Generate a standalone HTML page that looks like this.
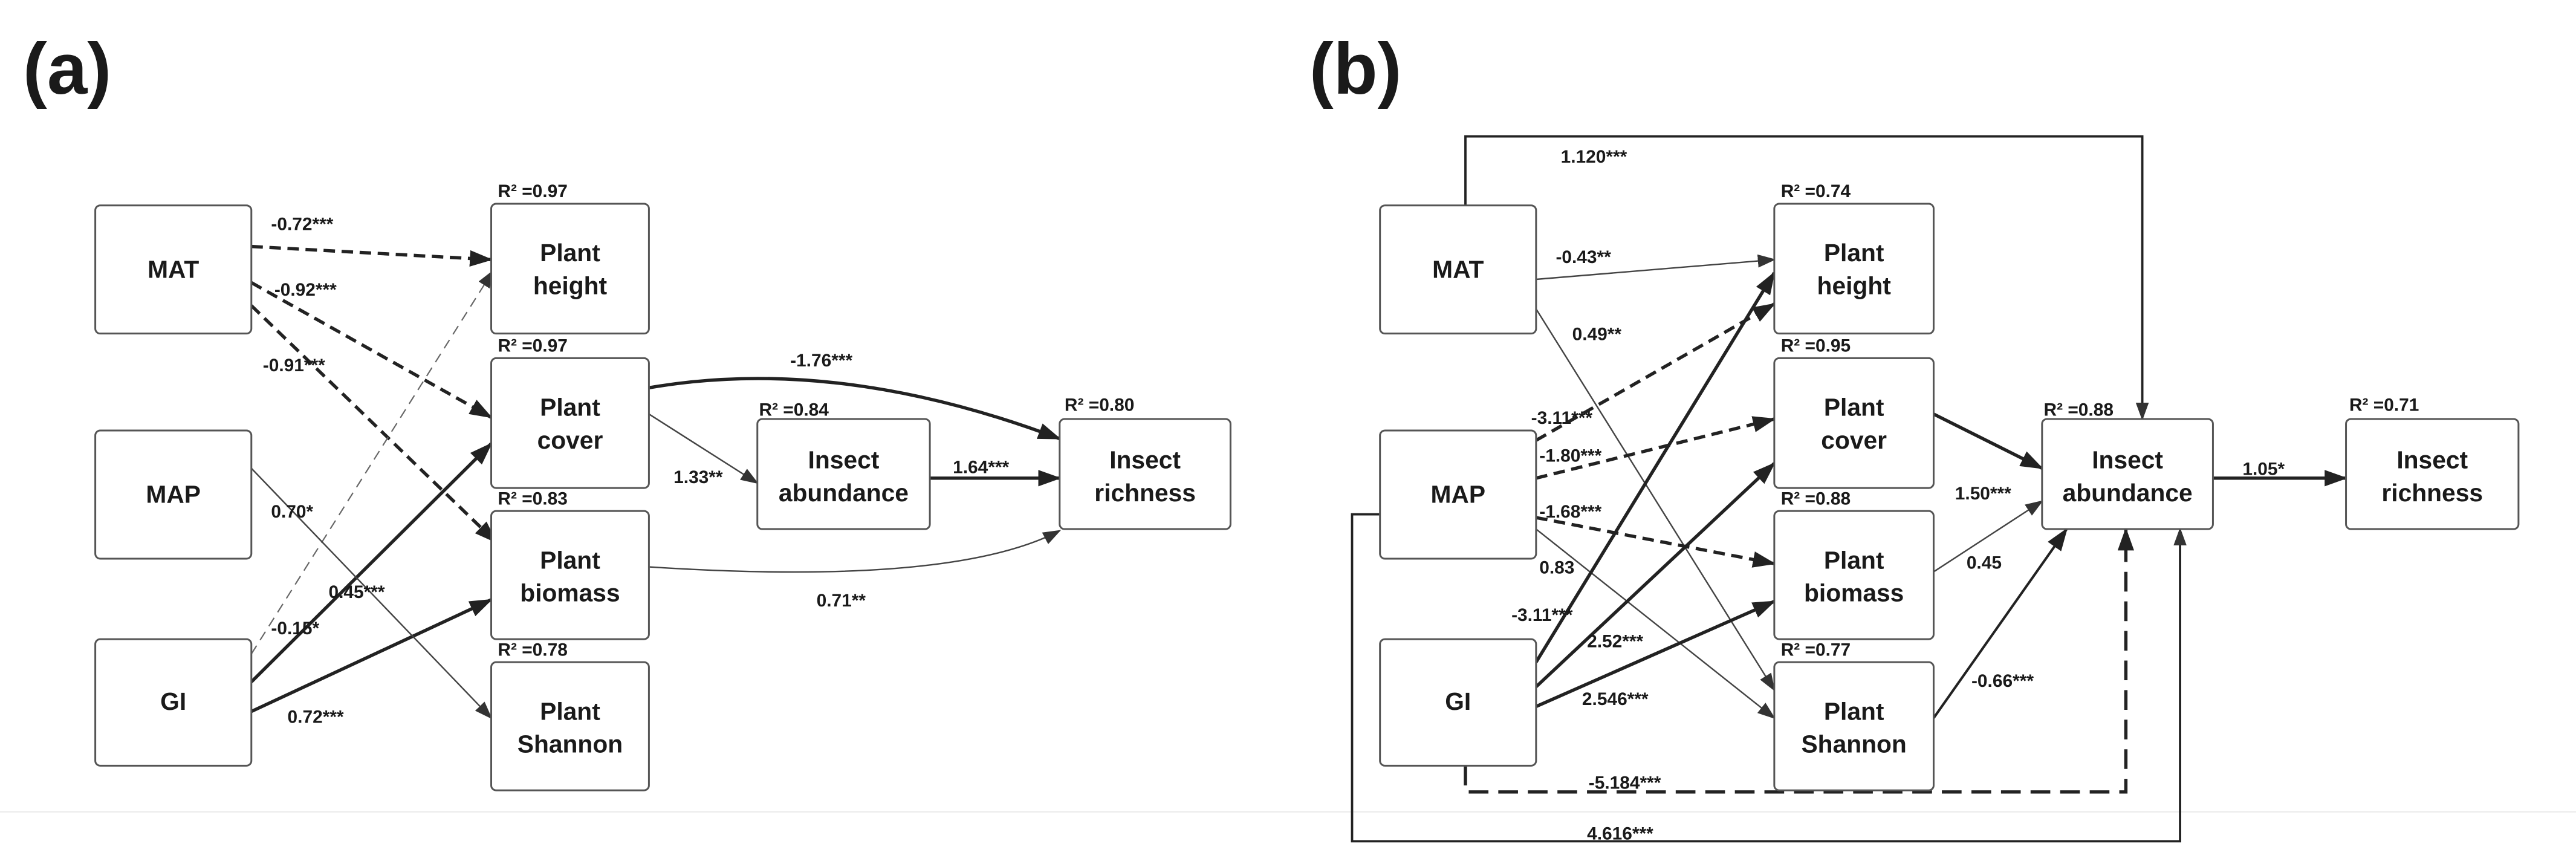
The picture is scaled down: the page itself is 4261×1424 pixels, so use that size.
<!DOCTYPE html>
<html><head><meta charset="utf-8"><style>
html,body{margin:0;padding:0;background:#fff;}
svg{display:block;}
text{font-family:"Liberation Sans",Arial,sans-serif;fill:#1a1a1a;}
.bx{fill:#fff;stroke:#555;stroke-width:1.1;}
.bl{font-size:15px;font-weight:bold;text-anchor:middle;}
.el{font-size:11px;font-weight:bold;}
.r2{font-size:11px;font-weight:bold;}
.tk{stroke:#222;stroke-width:2;fill:none;}
.tn{stroke:#444;stroke-width:0.9;fill:none;}
.dk{stroke:#222;stroke-width:2;fill:none;stroke-dasharray:7,4;}
.dn{stroke:#666;stroke-width:0.8;fill:none;stroke-dasharray:6,4;}
.dL{stroke:#222;stroke-width:2;fill:none;stroke-dasharray:12,6;}
</style></head><body>
<svg width="4261" height="1424" viewBox="0 0 1568 524" xmlns="http://www.w3.org/2000/svg">
<defs>
<marker id="aT" markerUnits="userSpaceOnUse" markerWidth="14" markerHeight="10" refX="13" refY="5" orient="auto"><path d="M0,0 L14,5 L0,10 z" fill="#222"/></marker>
<marker id="an" markerUnits="userSpaceOnUse" markerWidth="11" markerHeight="8" refX="10" refY="4" orient="auto"><path d="M0,0 L11,4 L0,8 z" fill="#333"/></marker>
</defs>
<line x1="0" y1="494" x2="1568" y2="494" stroke="#eee" stroke-width="1"/>
<text x="14" y="57" style="font-size:44px;font-weight:bold;">(a)</text>
<text x="797" y="57" style="font-size:44px;font-weight:bold;">(b)</text>

<!-- Panel A edges -->
<line class="dk" x1="153" y1="150" x2="299" y2="158" marker-end="url(#aT)"/>
<line class="dk" x1="153" y1="172" x2="299" y2="254" marker-end="url(#aT)"/>
<line class="dk" x1="153" y1="186" x2="302" y2="330" marker-end="url(#aT)"/>
<line class="dn" x1="153" y1="398" x2="300" y2="165" marker-end="url(#an)"/>
<line class="tk" x1="153" y1="415" x2="299" y2="270" marker-end="url(#aT)"/>
<line class="tk" x1="153" y1="433" x2="299" y2="365" marker-end="url(#aT)"/>
<line class="tn" x1="153" y1="285" x2="299" y2="437" marker-end="url(#an)"/>
<path class="tk" d="M395,236 Q510,216 645,267" marker-end="url(#aT)"/>
<line class="tn" x1="395" y1="252" x2="461" y2="294" marker-end="url(#an)"/>
<line class="tk" x1="566" y1="291" x2="645" y2="291" marker-end="url(#aT)"/>
<path class="tn" d="M395,345 Q580,357 645,323" marker-end="url(#an)"/>
<text class="el" x="165" y="140">-0.72***</text>
<text class="el" x="167" y="180">-0.92***</text>
<text class="el" x="160" y="226">-0.91***</text>
<text class="el" x="165" y="386">-0.15*</text>
<text class="el" x="200" y="364">0.45***</text>
<text class="el" x="175" y="440">0.72***</text>
<text class="el" x="165" y="315">0.70*</text>
<text class="el" x="481" y="223">-1.76***</text>
<text class="el" x="410" y="294">1.33**</text>
<text class="el" x="580" y="288">1.64***</text>
<text class="el" x="497" y="369">0.71**</text>

<!-- Panel A boxes -->
<rect class="bx" x="58" y="125" width="95" height="78" rx="3"/><text class="bl" x="105.5" y="169">MAT</text>
<rect class="bx" x="58" y="262" width="95" height="78" rx="3"/><text class="bl" x="105.5" y="306">MAP</text>
<rect class="bx" x="58" y="389" width="95" height="77" rx="3"/><text class="bl" x="105.5" y="432">GI</text>
<rect class="bx" x="299" y="124" width="96" height="79" rx="3"/><text class="bl" x="347" y="159">Plant</text><text class="bl" x="347" y="179">height</text>
<rect class="bx" x="299" y="218" width="96" height="79" rx="3"/><text class="bl" x="347" y="253">Plant</text><text class="bl" x="347" y="273">cover</text>
<rect class="bx" x="299" y="311" width="96" height="78" rx="3"/><text class="bl" x="347" y="346">Plant</text><text class="bl" x="347" y="366">biomass</text>
<rect class="bx" x="299" y="403" width="96" height="78" rx="3"/><text class="bl" x="347" y="438">Plant</text><text class="bl" x="347" y="458">Shannon</text>
<rect class="bx" x="461" y="255" width="105" height="67" rx="3"/><text class="bl" x="513.5" y="285">Insect</text><text class="bl" x="513.5" y="305">abundance</text>
<rect class="bx" x="645" y="255" width="104" height="67" rx="3"/><text class="bl" x="697" y="285">Insect</text><text class="bl" x="697" y="305">richness</text>
<text class="r2" x="303" y="120">R² =0.97</text>
<text class="r2" x="303" y="214">R² =0.97</text>
<text class="r2" x="303" y="307">R² =0.83</text>
<text class="r2" x="303" y="399">R² =0.78</text>
<text class="r2" x="462" y="253">R² =0.84</text>
<text class="r2" x="648" y="250">R² =0.80</text>

<!-- Panel B edges -->
<polyline class="tn" style="stroke:#222;stroke-width:1.4" points="892,125 892,83 1304,83 1304,255" marker-end="url(#an)"/>
<line class="tn" x1="935" y1="170" x2="1080" y2="158" marker-end="url(#an)"/>
<line class="tn" x1="935" y1="188" x2="1080" y2="420" marker-end="url(#an)"/>
<line class="dk" x1="935" y1="268" x2="1080" y2="185" marker-end="url(#aT)"/>
<line class="dk" x1="935" y1="291" x2="1080" y2="255" marker-end="url(#aT)"/>
<line class="dk" x1="935" y1="315" x2="1080" y2="343" marker-end="url(#aT)"/>
<line class="tn" x1="935" y1="322" x2="1080" y2="437" marker-end="url(#an)"/>
<line class="tk" x1="935" y1="403" x2="1080" y2="166" marker-end="url(#aT)"/>
<line class="tk" x1="935" y1="418" x2="1080" y2="282" marker-end="url(#aT)"/>
<line class="tk" x1="935" y1="430" x2="1080" y2="366" marker-end="url(#aT)"/>
<line class="tk" x1="1177" y1="252" x2="1243" y2="285" marker-end="url(#aT)"/>
<line class="tn" x1="1177" y1="348" x2="1243" y2="305" marker-end="url(#an)"/>
<line class="tk" style="stroke-width:1.5" x1="1177" y1="437" x2="1258" y2="322" marker-end="url(#aT)"/>
<line class="tk" x1="1347" y1="291" x2="1428" y2="291" marker-end="url(#aT)"/>
<polyline class="dL" points="892,466 892,482 1294,482 1294,322" marker-end="url(#aT)"/>
<polyline class="tn" style="stroke:#222;stroke-width:1.4" points="840,313 823,313 823,512 1327,512 1327,322" marker-end="url(#an)"/>
<text class="el" x="950" y="99">1.120***</text>
<text class="el" x="947" y="160">-0.43**</text>
<text class="el" x="957" y="207">0.49**</text>
<text class="el" x="932" y="258">-3.11***</text>
<text class="el" x="937" y="281">-1.80***</text>
<text class="el" x="937" y="315">-1.68***</text>
<text class="el" x="937" y="349">0.83</text>
<text class="el" x="920" y="378">-3.11***</text>
<text class="el" x="966" y="394">2.52***</text>
<text class="el" x="963" y="429">2.546***</text>
<text class="el" x="1190" y="304">1.50***</text>
<text class="el" x="1197" y="346">0.45</text>
<text class="el" x="1200" y="418">-0.66***</text>
<text class="el" x="1365" y="289">1.05*</text>
<text class="el" x="967" y="480">-5.184***</text>
<text class="el" x="966" y="511">4.616***</text>

<!-- Panel B boxes -->
<rect class="bx" x="840" y="125" width="95" height="78" rx="3"/><text class="bl" x="887.5" y="169">MAT</text>
<rect class="bx" x="840" y="262" width="95" height="78" rx="3"/><text class="bl" x="887.5" y="306">MAP</text>
<rect class="bx" x="840" y="389" width="95" height="77" rx="3"/><text class="bl" x="887.5" y="432">GI</text>
<rect class="bx" x="1080" y="124" width="97" height="79" rx="3"/><text class="bl" x="1128.5" y="159">Plant</text><text class="bl" x="1128.5" y="179">height</text>
<rect class="bx" x="1080" y="218" width="97" height="79" rx="3"/><text class="bl" x="1128.5" y="253">Plant</text><text class="bl" x="1128.5" y="273">cover</text>
<rect class="bx" x="1080" y="311" width="97" height="78" rx="3"/><text class="bl" x="1128.5" y="346">Plant</text><text class="bl" x="1128.5" y="366">biomass</text>
<rect class="bx" x="1080" y="403" width="97" height="78" rx="3"/><text class="bl" x="1128.5" y="438">Plant</text><text class="bl" x="1128.5" y="458">Shannon</text>
<rect class="bx" x="1243" y="255" width="104" height="67" rx="3"/><text class="bl" x="1295" y="285">Insect</text><text class="bl" x="1295" y="305">abundance</text>
<rect class="bx" x="1428" y="255" width="105" height="67" rx="3"/><text class="bl" x="1480.5" y="285">Insect</text><text class="bl" x="1480.5" y="305">richness</text>
<text class="r2" x="1084" y="120">R² =0.74</text>
<text class="r2" x="1084" y="214">R² =0.95</text>
<text class="r2" x="1084" y="307">R² =0.88</text>
<text class="r2" x="1084" y="399">R² =0.77</text>
<text class="r2" x="1244" y="253">R² =0.88</text>
<text class="r2" x="1430" y="250">R² =0.71</text>
</svg>
</body></html>
